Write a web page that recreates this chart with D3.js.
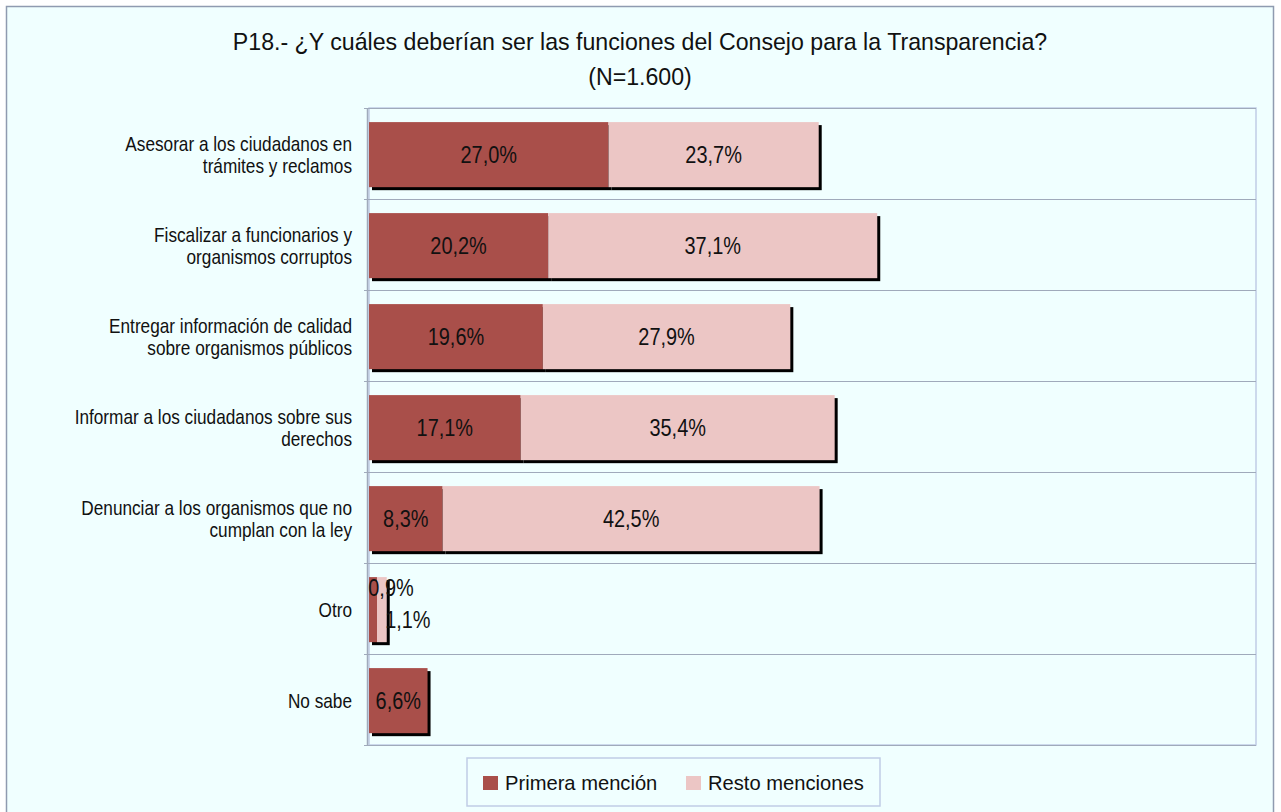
<!DOCTYPE html>
<html>
<head>
<meta charset="utf-8">
<script src="https://cdn.jsdelivr.net/npm/d3@7"></script>
<style>
  body { margin: 0; background: #fff; }
  text { font-family: "Liberation Sans", Arial, sans-serif; }
</style>
</head>
<body>
<div id="canvas"></div>
<script>
// categories (two-line labels) and series values in %
const categories = [
    ["Asesorar a los ciudadanos en", "trámites y reclamos"],
    ["Fiscalizar a funcionarios y", "organismos corruptos"],
    ["Entregar información de calidad", "sobre organismos públicos"],
    ["Informar a los ciudadanos sobre sus", "derechos"],
    ["Denunciar a los organismos que no", "cumplan con la ley"],
    ["Otro"],
    ["No sabe"]
];
const primera = [27.0, 20.2, 19.6, 17.1, 8.3, 0.9, 6.6];
const resto = [23.7, 37.1, 27.9, 35.4, 42.5, 1.1, 0];
const seriesNames = ["Primera mención", "Resto menciones"];
const colors = ["#a94f4a", "#ecc6c5"];

const W = 1281, H = 812;
const plot = { left: 369, right: 1256, top: 108, bottom: 745 };
const ink = "#111";

const svg = d3.select("#canvas")
    .append("svg")
    .attr("width", W)
    .attr("height", H);

// the original uses a narrow face, so text is squeezed horizontally
function narrowText(g, x, y, sx, size, anchor) {
    return g.append("text")
        .attr("transform", `translate(${x},${y}) scale(${sx},1)`)
        .attr("text-anchor", anchor || "middle")
        .attr("font-size", size + "px")
        .attr("fill", ink);
}

// outer frame
svg.append("rect")
    .attr("x", 6.5).attr("y", 6.5)
    .attr("width", 1267).attr("height", 820)
    .attr("fill", "#f0ffff")
    .attr("stroke", "#8f9bb0")
    .attr("stroke-width", 1.5);

// title
narrowText(svg, 640, 50, 0.965, 24)
    .text("P18.- ¿Y cuáles deberían ser las funciones del Consejo para la Transparencia?");
narrowText(svg, 640, 85, 0.965, 24)
    .text("(N=1.600)");

const x = d3.scaleLinear().domain([0, 100]).range([plot.left, plot.right]);
// one band per category row (grid lines sit at the band edges)
const row = d3.scaleBand()
    .domain(d3.range(categories.length))
    .range([plot.top, plot.bottom]);
const barOff = row.bandwidth() * 0.155;
const barH = row.bandwidth() * 0.715;

// plot area border
svg.append("rect")
    .attr("x", plot.left).attr("y", plot.top)
    .attr("width", plot.right - plot.left).attr("height", plot.bottom - plot.top)
    .attr("fill", "none")
    .attr("stroke", "#c0cde6")
    .attr("stroke-width", 1.5);

// horizontal grid lines between categories
const gridYs = row.domain().map(i => row(i)).concat([plot.bottom]);
svg.append("g")
    .selectAll("line")
    .data(gridYs)
    .join("line")
    .attr("x1", plot.left - 5).attr("x2", plot.right)
    .attr("y1", d => Math.round(d) + 0.5).attr("y2", d => Math.round(d) + 0.5)
    .attr("stroke", "#a0aabb")
    .attr("stroke-width", 1.2);

// vertical axis
svg.append("line")
    .attr("x1", plot.left - 1.5).attr("x2", plot.left - 1.5)
    .attr("y1", plot.top).attr("y2", plot.bottom)
    .attr("stroke", "#a0aabb")
    .attr("stroke-width", 1.5);

// stacked data
const segs = categories.map((c, i) => {
    const out = [];
    let x0 = 0;
    [primera[i], resto[i]].forEach((v, s) => {
        if (v > 0) out.push({ row: i, s: s, x0: x0, x1: x0 + v, v: v });
        x0 += v;
    });
    return out;
}).flat();

const fmt = v => v.toFixed(1).replace(".", ",") + "%";
// tiny "Otro" values are pushed aside by the label placement of the original
const nudge = d => {
    if (d.v < 2 && d.s === 0) return [18, -22];
    if (d.v < 2 && d.s === 1) return [26, 10];
    return [0, 0];
};

// draw series by series: shadow then bar
[0, 1].forEach(s => {
    const ss = segs.filter(d => d.s === s);
    const g = svg.append("g");
    g.selectAll("rect.shadow")
        .data(ss)
        .join("rect")
        .attr("class", "shadow")
        .attr("x", d => x(d.x0) + 3)
        .attr("y", d => row(d.row) + barOff + 3)
        .attr("width", d => x(d.x1) - x(d.x0))
        .attr("height", barH)
        .attr("fill", "#000");
    g.selectAll("rect.bar")
        .data(ss)
        .join("rect")
        .attr("class", "bar")
        .attr("x", d => x(d.x0))
        .attr("y", d => row(d.row) + barOff)
        .attr("width", d => x(d.x1) - x(d.x0))
        .attr("height", barH)
        .attr("fill", colors[s]);
});

// value labels on top
const valG = svg.append("g");
segs.forEach(d => {
    const [dx, dy] = nudge(d);
    narrowText(valG, (x(d.x0) + x(d.x1)) / 2 + dx, row(d.row) + barOff + barH / 2 + dy, 0.83, 24)
        .attr("dy", "0.35em")
        .text(fmt(d.v));
});

// category labels
const labG = svg.append("g");
categories.forEach((lines, i) => {
    const t = narrowText(labG, 352, row(i) + row.bandwidth() / 2 + 1, 0.82, 21, "end");
    t.selectAll("tspan")
        .data(lines)
        .join("tspan")
        .attr("x", 0)
        .attr("y", (d, k) => (k - (lines.length - 1) / 2) * 22)
        .attr("dy", "0.35em")
        .text(d => d);
});

// legend
const lg = svg.append("g");
lg.append("rect")
    .attr("x", 467).attr("y", 758)
    .attr("width", 413).attr("height", 48)
    .attr("fill", "#f0ffff")
    .attr("stroke", "#c0cde6")
    .attr("stroke-width", 1.5);
const legendX = [483, 686];
seriesNames.forEach((name, i) => {
    lg.append("rect")
        .attr("x", legendX[i]).attr("y", 776)
        .attr("width", 15).attr("height", 14)
        .attr("fill", colors[i]);
    narrowText(lg, legendX[i] + 22, 783, 0.96, 21, "start")
        .attr("dy", "0.35em")
        .text(name);
});
</script>
</body>
</html>
